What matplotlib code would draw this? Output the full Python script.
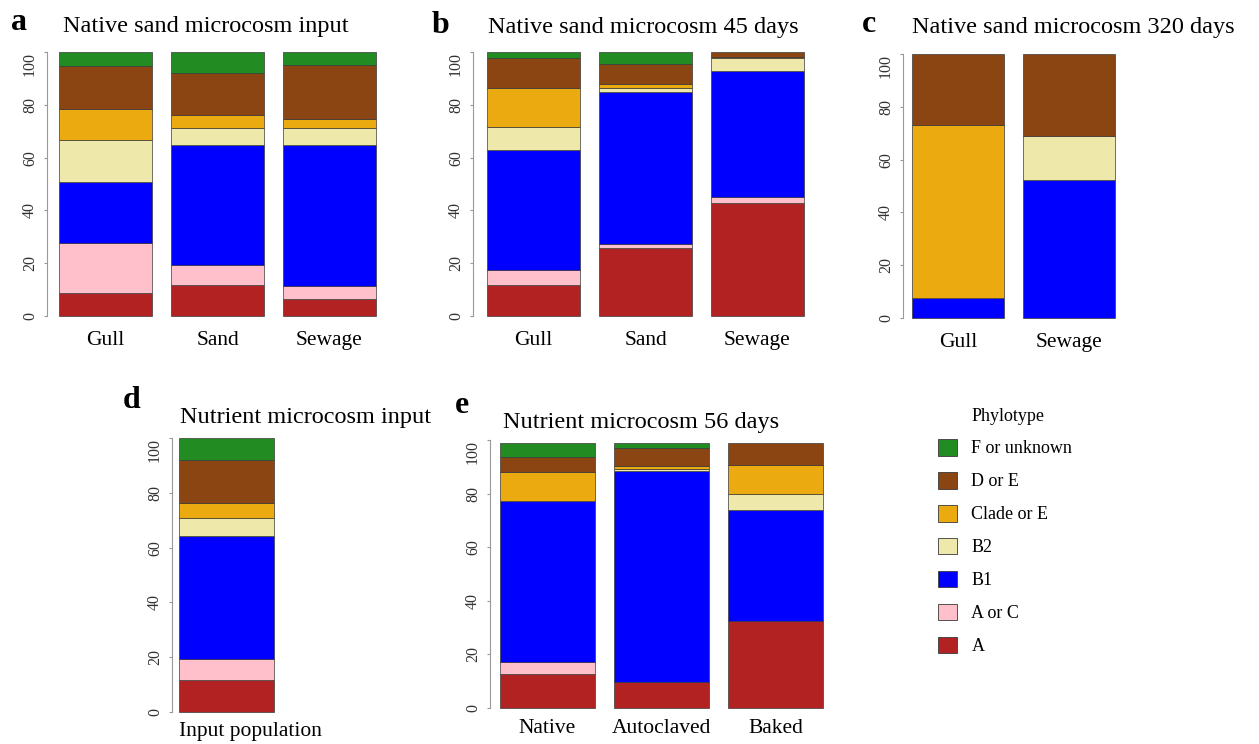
import numpy as np
import matplotlib
matplotlib.use("Agg")
import matplotlib.pyplot as plt
from matplotlib.patches import Patch

plt.rcParams["font.family"] = ["Liberation Serif", "DejaVu Serif"]

# stacking order, bottom to top
phylotypes = ["A", "A or C", "B1", "B2", "Clade or E", "D or E", "F or unknown"]
colors = ["#B22222", "#FFC0CB", "#0000FF", "#EEE8AA", "#EAAA10", "#8B4513", "#228B22"]

# percentages per sample, columns follow `phylotypes`
samples_a = ["Gull", "Sand", "Sewage"]
values_a = [
    [8.7, 18.8, 23.2, 16.1, 11.6, 16.4, 5.2],
    [11.7, 7.5, 45.4, 6.5, 5.2, 15.8, 7.9],
    [6.4, 4.8, 53.6, 6.3, 3.6, 20.3, 5.0],
]

samples_b = ["Gull", "Sand", "Sewage"]
values_b = [
    [11.6, 5.8, 45.4, 8.7, 14.8, 11.4, 2.3],
    [25.9, 1.5, 57.3, 1.6, 1.7, 7.6, 4.4],
    [42.9, 2.1, 47.7, 4.9, 0.4, 2.0, 0.0],
]

samples_c = ["Gull", "Sewage"]
values_c = [
    [0.0, 0.0, 7.6, 0.0, 65.5, 26.9, 0.0],
    [0.0, 0.0, 52.2, 16.9, 0.0, 30.9, 0.0],
]

samples_d = ["Input population"]
values_d = [
    [11.8, 7.7, 44.9, 6.5, 5.3, 15.7, 8.1],
]

samples_e = ["Native", "Autoclaved", "Baked"]
values_e = [
    [12.8, 4.2, 60.4, 0.0, 10.8, 5.6, 5.2],
    [9.6, 0.0, 78.7, 1.0, 1.0, 6.6, 2.1],
    [32.4, 0.0, 41.4, 6.0, 10.8, 8.4, 0.0],
]

W, H = 1259, 744
fig = plt.figure(figsize=(W / 100, H / 100), dpi=100)


def make_axes(spine_x, bar_left, bar_right, y0, y100, n):
    # R-style barplot geometry: width 1, space 0.2
    span = 1.2 * n - 0.2
    s = (bar_right - bar_left) / span
    m = (bar_left - spine_x) / s
    right_px = bar_right + (bar_left - spine_x)
    ax = fig.add_axes([spine_x / W, 1 - y0 / H, (right_px - spine_x) / W, (y0 - y100) / H])
    ax.set_xlim(0.2 - m, 0.2 + span + m)
    ax.set_ylim(0, 100)
    return ax


def draw_panel(ax, samples, values, label_pad, left_label=False):
    vals = np.array(values)
    x = 0.7 + 1.2 * np.arange(len(samples))
    bottoms = np.zeros(len(samples))
    for j, col in enumerate(colors):
        h = vals[:, j]
        keep = h > 0
        ax.bar(x[keep], h[keep], width=1.0, bottom=bottoms[keep], color=col,
               edgecolor="#3a3a3a", linewidth=0.5, clip_on=False)
        bottoms += h
    for side in ["top", "right", "bottom"]:
        ax.spines[side].set_visible(False)
    ax.spines["left"].set_bounds(0, 100)
    ax.spines["left"].set_color("#999999")
    ax.set_yticks([0, 20, 40, 60, 80, 100])
    ax.tick_params(axis="y", length=2.5, width=0.8, color="#999999", pad=4,
                   labelsize=11.5, labelcolor="#333333")
    labels = ax.get_yticklabels()
    for t in labels:
        t.set_rotation(90)
        t.set_va("center")
    # top label sits just below its tick in the original
    labels[-1].set_va("top")
    if left_label:
        ax.set_xticks(x - 0.5)
        ax.set_xticklabels(samples, fontsize=15.5, ha="left")
    else:
        ax.set_xticks(x)
        ax.set_xticklabels(samples, fontsize=15.5)
    ax.tick_params(axis="x", length=0, pad=label_pad)


ax_a = make_axes(47, 59, 376, 316, 52, 3)
draw_panel(ax_a, samples_a, values_a, 11)
ax_b = make_axes(473, 487, 804, 316, 52, 3)
draw_panel(ax_b, samples_b, values_b, 11)
ax_c = make_axes(903, 912, 1115, 318, 54, 2)
draw_panel(ax_c, samples_c, values_c, 11)
ax_d = make_axes(172, 179, 274, 712, 438, 1)
draw_panel(ax_d, samples_d, values_d, 7, left_label=True)
ax_e = make_axes(490, 500, 823, 708, 440, 3)
draw_panel(ax_e, samples_e, values_e, 8)

# panel letters and titles (pixel positions, baseline)
letters = [("a", 11, 30), ("b", 432, 33), ("c", 862, 32), ("d", 123, 408), ("e", 455, 413)]
for txt, px, py in letters:
    fig.text(px / W, 1 - py / H, txt, fontsize=23, fontweight="bold",
             va="baseline", ha="left")

titles = [
    ("Native sand microcosm input", 63, 32),
    ("Native sand microcosm 45 days", 488, 33),
    ("Native sand microcosm 320 days", 912, 33),
    ("Nutrient microcosm input", 180, 423),
    ("Nutrient microcosm 56 days", 503, 428),
]
for txt, px, py in titles:
    fig.text(px / W, 1 - py / H, txt, fontsize=17.5, va="baseline", ha="left")

# legend, top entry first
handles = [Patch(facecolor=c, edgecolor="#3a3a3a", linewidth=0.6) for c in colors][::-1]
fig.legend(handles, phylotypes[::-1], loc="center left",
           bbox_to_anchor=(938 / W, 1 - 547 / H), frameon=False, fontsize=13,
           handlelength=1.05, handleheight=1.05, handletextpad=0.8,
           labelspacing=0.8, borderpad=0, borderaxespad=0)
fig.text(972 / W, 1 - 417 / H, "Phylotype", fontsize=13, va="center", ha="left")

fig.savefig("out.png", dpi=100)
